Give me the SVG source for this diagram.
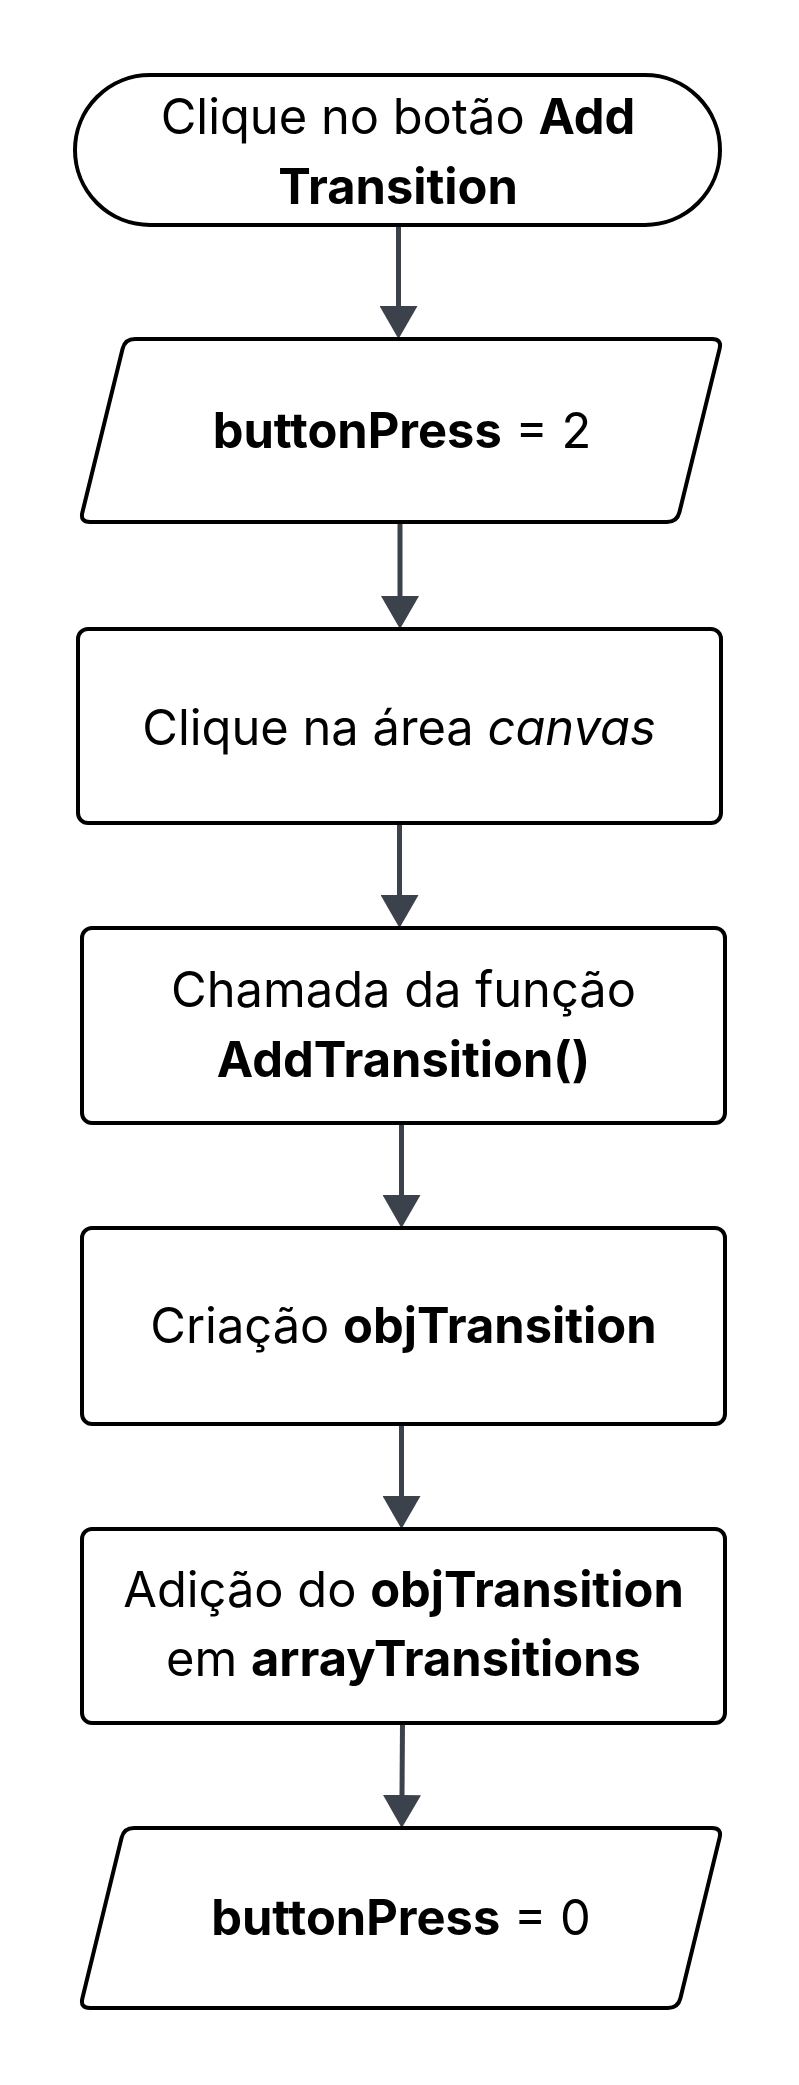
<svg xmlns="http://www.w3.org/2000/svg" width="799" height="2085" viewBox="0 0 799 2085">
<style>
.node{fill:#ffffff;stroke:#000000;stroke-width:4}
.lbl{font-family:Inter,"Noto Sans","Liberation Sans",sans-serif;font-size:48.8px;fill:#000000;text-anchor:middle}
.b{font-weight:700}
.i{font-style:italic}
.edge{stroke:#3c424c;stroke-width:5;fill:none}
</style>
<defs>
<marker id="ah" viewBox="0 0 33 38" refX="0" refY="19" markerWidth="33" markerHeight="38" markerUnits="userSpaceOnUse" orient="auto">
<path d="M0,0 L33,19 L0,38 Z" fill="#3c424c"/>
</marker>
</defs>
<rect width="799" height="2085" fill="#ffffff"/>
<g id="connectors">
<line class="edge" x1="398.5" y1="225" x2="398.5" y2="306" marker-end="url(#ah)"/>
<line class="edge" x1="400" y1="522" x2="400" y2="596" marker-end="url(#ah)"/>
<line class="edge" x1="399.5" y1="823" x2="399.5" y2="895" marker-end="url(#ah)"/>
<line class="edge" x1="401.5" y1="1123" x2="401.5" y2="1195" marker-end="url(#ah)"/>
<line class="edge" x1="401.5" y1="1424" x2="401.5" y2="1496" marker-end="url(#ah)"/>
<line class="edge" x1="402.5" y1="1723" x2="402" y2="1795" marker-end="url(#ah)"/>
</g>
<g id="start">
<rect class="node" x="75" y="75" width="645" height="150" rx="75" ry="75"/>
<text class="lbl" x="398" y="134">Clique no botão <tspan class="b">Add</tspan></text>
<text class="lbl b" x="398" y="204">Transition</text>
</g>
<g id="set2">
<path class="node" d="M135,339 L712,339 Q722,339 719.6,348.7 L679.4,512.3 Q677,522 667,522 L90,522 Q80,522 82.4,512.3 L122.6,348.7 Q125,339 135,339 Z"/>
<text class="lbl" x="402" y="448"><tspan class="b">buttonPress</tspan> = 2</text>
</g>
<g id="click">
<rect class="node" x="78" y="629" width="643" height="194" rx="10" ry="10"/>
<text class="lbl" x="399" y="745">Clique na área <tspan class="i">canvas</tspan></text>
</g>
<g id="call">
<rect class="node" x="82" y="928" width="643" height="195" rx="10" ry="10"/>
<text class="lbl" x="403.5" y="1007">Chamada da função</text>
<text class="lbl b" x="403.5" y="1077">AddTransition()</text>
</g>
<g id="create">
<rect class="node" x="82" y="1228" width="643" height="196" rx="10" ry="10"/>
<text class="lbl" x="403.5" y="1343">Criação <tspan class="b">objTransition</tspan></text>
</g>
<g id="add">
<rect class="node" x="82" y="1529" width="643" height="194" rx="10" ry="10"/>
<text class="lbl" x="403.5" y="1607">Adição do <tspan class="b">objTransition</tspan></text>
<text class="lbl" x="403.5" y="1676">em <tspan class="b">arrayTransitions</tspan></text>
</g>
<g id="set0">
<path class="node" d="M134,1828 L712,1828 Q722,1828 719.6,1837.7 L680.4,1998.3 Q678,2008 668,2008 L90,2008 Q80,2008 82.4,1998.3 L121.6,1837.7 Q124,1828 134,1828 Z"/>
<text class="lbl" x="401" y="1935"><tspan class="b">buttonPress</tspan> = 0</text>
</g>
</svg>
